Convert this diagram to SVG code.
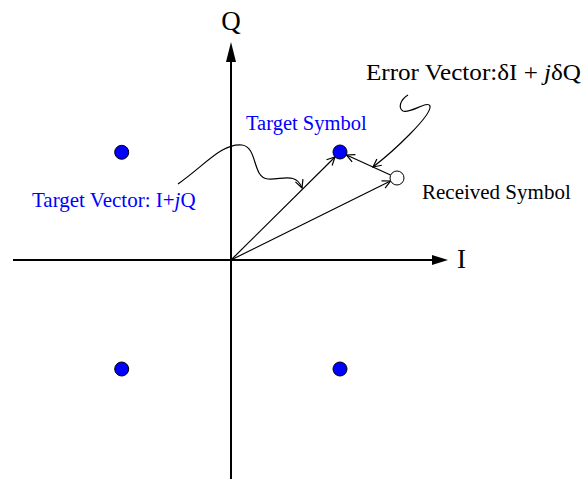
<svg xmlns="http://www.w3.org/2000/svg" width="584" height="479" viewBox="0 0 584 479">
<style>
.axis{stroke:#000;stroke-width:2;fill:none}
.vec{stroke:#000;stroke-width:1.2;fill:none}
.dot{fill:#0000FF;stroke:#000;stroke-width:1}
.open{fill:#fff;stroke:#000;stroke-width:1}
.t{font-family:"Liberation Serif","Times New Roman",serif}
.blue{fill:#0000FF}
</style>
<defs>
<marker id="va" markerWidth="10" markerHeight="10" refX="9" refY="5" orient="auto" markerUnits="userSpaceOnUse">
<path d="M1,1 L9,5 L1,9" fill="none" stroke="#000" stroke-width="1.2"/>
</marker>
</defs>
<rect width="584" height="479" fill="#fff"/>
<g id="axes">
<line class="axis" x1="13" y1="260" x2="434" y2="260"/>
<polygon points="448,260 432,255 432,265" fill="#000"/>
<line class="axis" x1="231" y1="479" x2="231" y2="60"/>
<polygon points="231,42 226,62 236,62" fill="#000"/>
<text class="t" x="231" y="30" font-size="27" text-anchor="middle">Q</text>
<text class="t" x="457" y="268" font-size="27">I</text>
</g>
<g id="connectors">
<line class="vec" x1="231" y1="260" x2="335" y2="157" marker-end="url(#va)"/>
<line class="vec" x1="231" y1="260" x2="390.5" y2="181" marker-end="url(#va)"/>
<line class="vec" x1="390.5" y1="175" x2="346.5" y2="155" marker-end="url(#va)"/>
<path class="vec" d="M178,184 C205,165 222,143 242,145 C258,147 252,178 268,179 C282,180 296,172 302,188" marker-end="url(#va)"/>
<path class="vec" d="M408,95 C400,100 398,108 403,111 C410,114 428,100 430,106 C432,115 395,150 373,167" marker-end="url(#va)"/>
</g>
<g id="dot-tl"><circle class="dot" cx="121.7" cy="152.3" r="7"/></g>
<g id="target-symbol"><circle class="dot" cx="340" cy="152" r="7"/></g>
<g id="dot-bl"><circle class="dot" cx="121.7" cy="369" r="7"/></g>
<g id="dot-br"><circle class="dot" cx="340" cy="369" r="7"/></g>
<g id="received-symbol"><circle class="open" cx="397" cy="178" r="7"/></g>
<g id="labels">
<text class="t blue" x="246" y="130" font-size="20.5">Target Symbol</text>
<text class="t blue" x="32" y="207" font-size="21">Target Vector: I+<tspan font-style="italic">j</tspan>Q</text>
<text class="t" x="422" y="199" font-size="21">Received Symbol</text>
<text class="t" x="366" y="80" font-size="24" textLength="215" lengthAdjust="spacingAndGlyphs">Error Vector:δI + <tspan font-style="italic">j</tspan>δQ</text>
</g>
</svg>
